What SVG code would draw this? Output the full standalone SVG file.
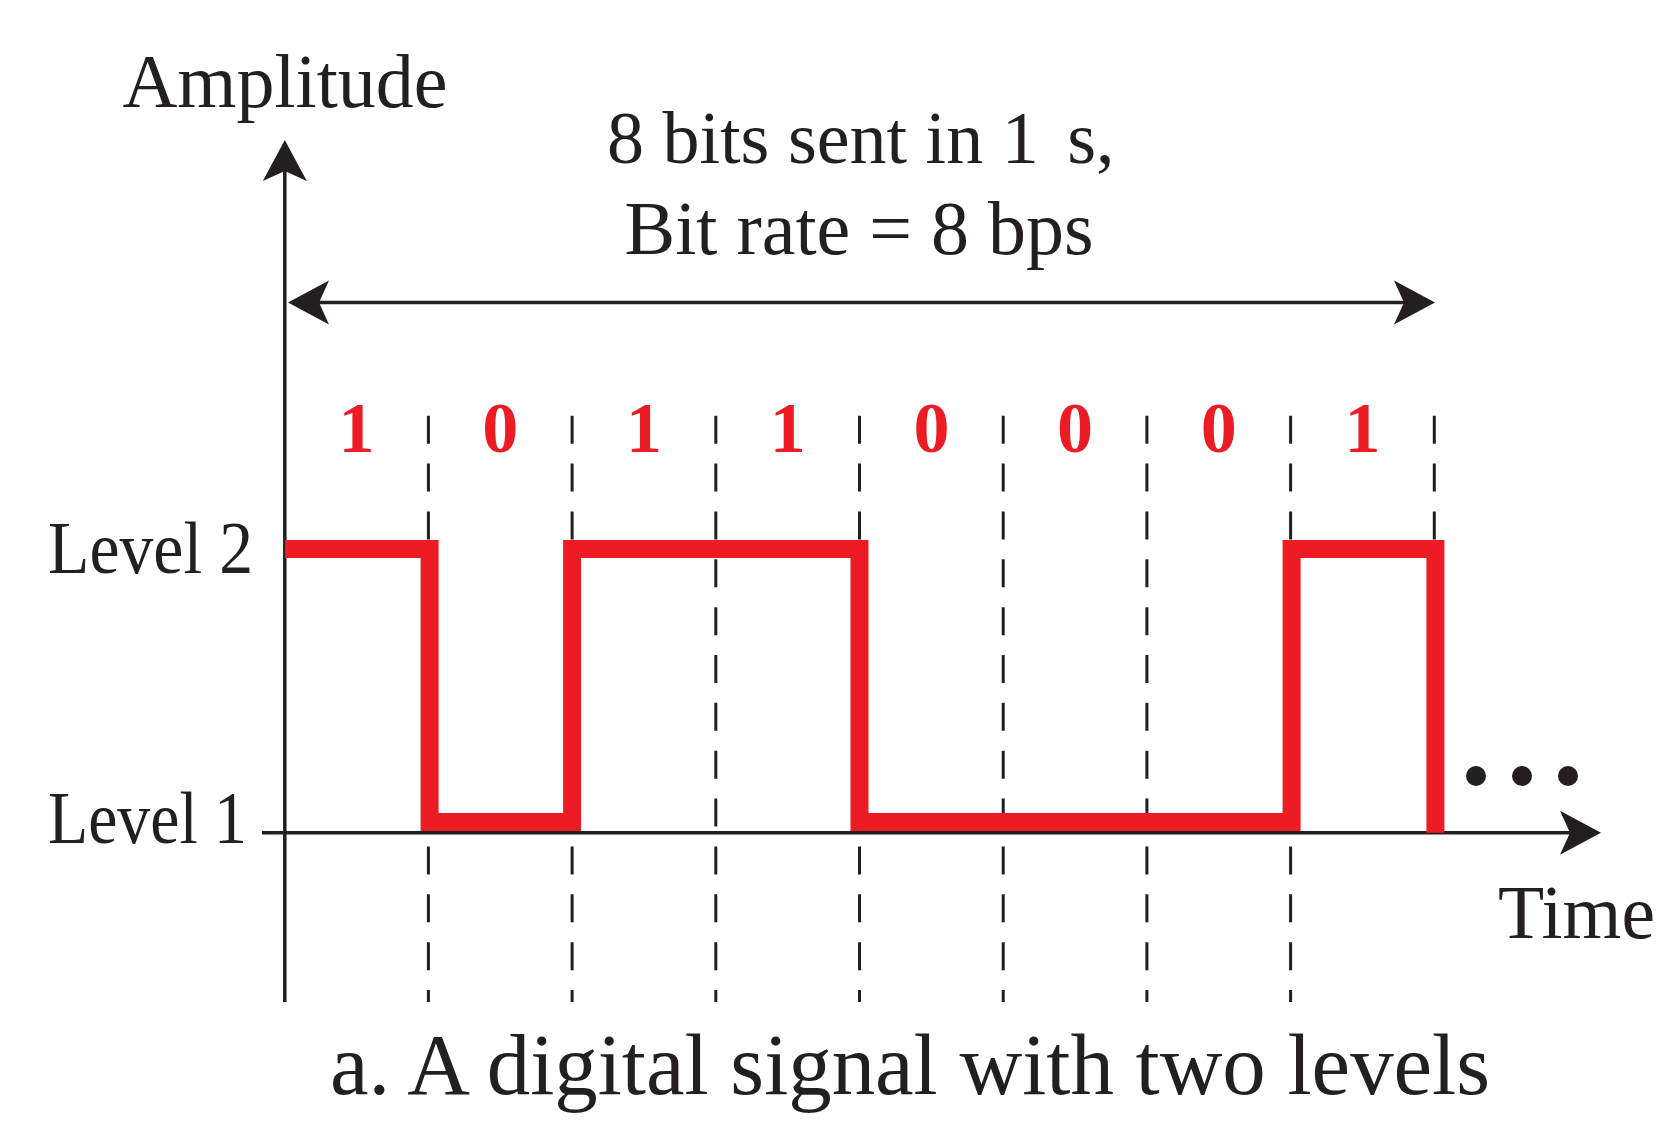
<svg xmlns="http://www.w3.org/2000/svg" width="1678" height="1136" viewBox="0 0 1678 1136">
<style>
.t{font-family:"Liberation Serif","Times New Roman",serif;fill:#231F20}
.bit{font-family:"Liberation Serif","Times New Roman",serif;font-weight:bold;font-size:72px;fill:#ED1C24;text-anchor:middle}
.ax{stroke:#231F20;stroke-width:3.5;fill:none}
.dash{stroke:#231F20;stroke-width:3;stroke-dasharray:28 19.86;fill:none}
.sig{stroke:#ED1C24;stroke-width:18;fill:none;stroke-linejoin:miter;stroke-linecap:butt}
</style>
<defs>
<marker id="ah" markerUnits="userSpaceOnUse" markerWidth="60" markerHeight="50" viewBox="-45 -25 60 50" refX="-5" refY="0" orient="auto-start-reverse">
<path d="M0,0 L-41,-22 L-31,0 L-41,22 Z" fill="#231F20"/>
</marker>
</defs>
<g id="grid">
<line class="dash" x1="428.4" y1="415.7" x2="428.4" y2="1002"/>
<line class="dash" x1="572.1" y1="415.7" x2="572.1" y2="1002"/>
<line class="dash" x1="715.8" y1="415.7" x2="715.8" y2="1002"/>
<line class="dash" x1="859.5" y1="415.7" x2="859.5" y2="1002"/>
<line class="dash" x1="1003.2" y1="415.7" x2="1003.2" y2="1002"/>
<line class="dash" x1="1146.9" y1="415.7" x2="1146.9" y2="1002"/>
<line class="dash" x1="1290.6" y1="415.7" x2="1290.6" y2="1002"/>
<line class="dash" x1="1434.3" y1="415.7" x2="1434.3" y2="545"/>
</g>
<g id="connectors">
<line id="y-axis" class="ax" x1="284.8" y1="1002" x2="284.8" y2="145" marker-end="url(#ah)"/>
<line id="time-axis" class="ax" x1="262" y1="832.7" x2="1596" y2="832.7" marker-end="url(#ah)"/>
<line id="duration" class="ax" x1="293" y1="302.5" x2="1430" y2="302.5" marker-start="url(#ah)" marker-end="url(#ah)"/>
</g>
<g id="signal">
<path class="sig" d="M285,549 H429.6 V822 H572.1 V549 H859.5 V822 H1291.6 V549 H1435.4 V832.7"/>
</g>
<g id="bits">
<text class="bit" x="356.6" y="452">1</text>
<text class="bit" x="500.3" y="452">0</text>
<text class="bit" x="644" y="452">1</text>
<text class="bit" x="787.7" y="452">1</text>
<text class="bit" x="931.4" y="452">0</text>
<text class="bit" x="1075" y="452">0</text>
<text class="bit" x="1218.8" y="452">0</text>
<text class="bit" x="1362.5" y="452">1</text>
</g>
<g id="ellipsis" fill="#231F20">
<circle cx="1476" cy="776" r="10"/>
<circle cx="1522" cy="776" r="10"/>
<circle cx="1568" cy="776" r="10"/>
</g>
<g id="labels">
<text id="amplitude" class="t" x="122.5" y="106.7" font-size="76" textLength="325" lengthAdjust="spacingAndGlyphs">Amplitude</text>
<text id="line1" class="t" x="607" y="162.7" font-size="74">8 bits sent in 1<tspan dx="10"> s,</tspan></text>
<text id="line2" class="t" x="624.6" y="254" font-size="76" textLength="469" lengthAdjust="spacingAndGlyphs">Bit rate = 8 bps</text>
<text id="level2" class="t" x="48" y="573" font-size="74" textLength="205" lengthAdjust="spacingAndGlyphs">Level 2</text>
<text id="level1" class="t" x="48" y="843" font-size="74" textLength="199" lengthAdjust="spacingAndGlyphs">Level 1</text>
<text id="time" class="t" x="1498" y="938" font-size="76" textLength="157" lengthAdjust="spacingAndGlyphs">Time</text>
<text id="caption" class="t" x="330" y="1094" font-size="86" textLength="1160" lengthAdjust="spacingAndGlyphs">a. A digital signal with two levels</text>
</g>
</svg>
